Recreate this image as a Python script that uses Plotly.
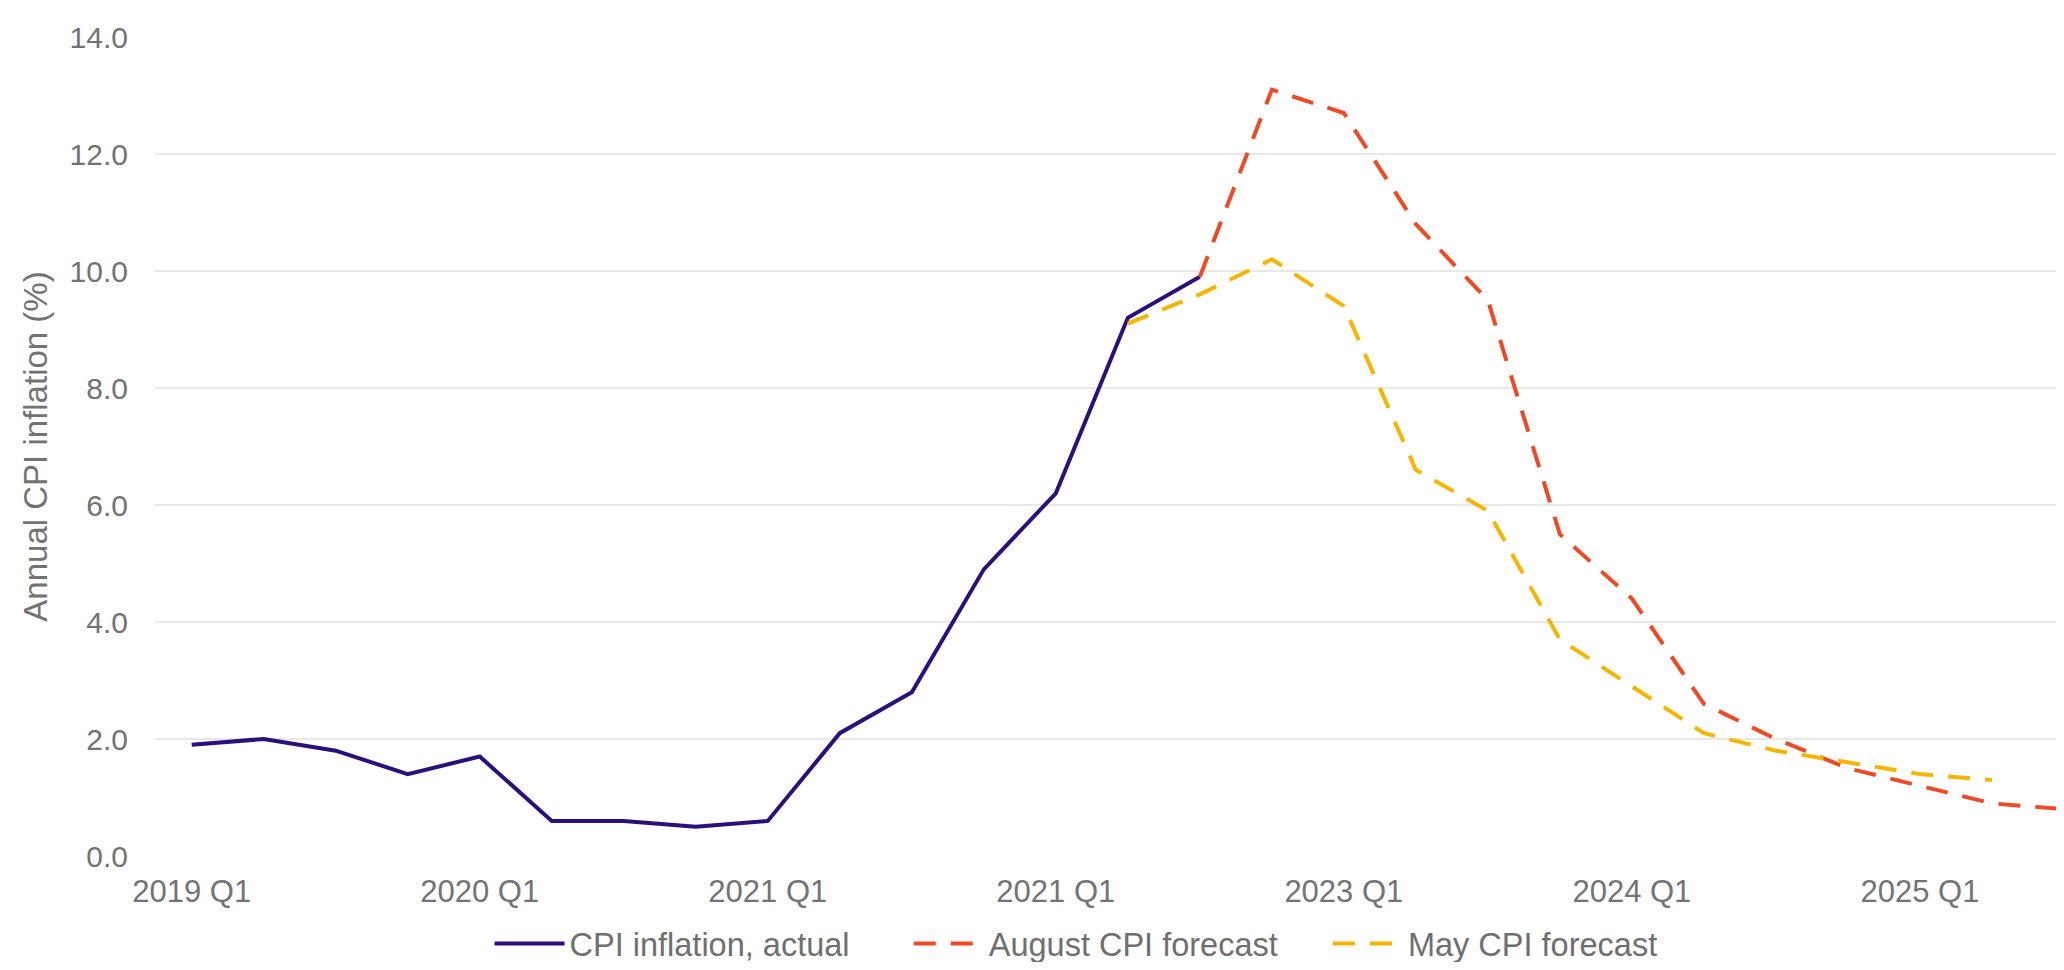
"""UK CPI inflation: actual outturns against the May and August forecasts."""

import plotly.graph_objects as go

quarters = [
    "2019 Q1", "2019 Q2", "2019 Q3", "2019 Q4",
    "2020 Q1", "2020 Q2", "2020 Q3", "2020 Q4",
    "2021 Q1", "2021 Q2", "2021 Q3", "2021 Q4",
    "2022 Q1", "2022 Q2", "2022 Q3", "2022 Q4",
    "2023 Q1", "2023 Q2", "2023 Q3", "2023 Q4",
    "2024 Q1", "2024 Q2", "2024 Q3", "2024 Q4",
    "2025 Q1", "2025 Q2", "2025 Q3",
]

# CPI inflation, actual (2019 Q1 - 2022 Q3)
actual_quarters = quarters[0:15]
actual_cpi = [1.9, 2.0, 1.8, 1.4, 1.7, 0.6, 0.6, 0.5, 0.6, 2.1, 2.8, 4.9, 6.2, 9.2, 9.9]

# August forecast (2022 Q3 - 2025 Q3)
august_quarters = quarters[14:27]
august_cpi = [9.9, 13.1, 12.7, 10.8, 9.5, 5.5, 4.4, 2.6, 2.0, 1.5, 1.2, 0.9, 0.8]

# May forecast (2022 Q2 - 2025 Q2)
may_quarters = quarters[13:26]
may_cpi = [9.1, 9.6, 10.2, 9.4, 6.6, 5.9, 3.7, 2.9, 2.1, 1.8, 1.6, 1.4, 1.3]

# the source labels 2022 Q1 as "2021 Q1"; kept as drawn
tick_quarters = ["2019 Q1", "2020 Q1", "2021 Q1", "2022 Q1", "2023 Q1", "2024 Q1", "2025 Q1"]
tick_labels = ["2019 Q1", "2020 Q1", "2021 Q1", "2021 Q1", "2023 Q1", "2024 Q1", "2025 Q1"]

FONT = "Liberation Sans"
GREY = "#737373"
NBSP = "\u00a0"  # pads legend entries apart

fig = go.Figure()

fig.add_trace(
    go.Scatter(
        x=actual_quarters,
        y=actual_cpi,
        mode="lines",
        name="CPI inflation, actual" + NBSP * 6,
        line=dict(color="#2b0f7a", width=4),
    )
)
fig.add_trace(
    go.Scatter(
        x=august_quarters,
        y=august_cpi,
        mode="lines",
        name="August CPI forecast" + NBSP * 5,
        line=dict(color="#ef4a23", width=4, dash="22px,15px"),
    )
)
fig.add_trace(
    go.Scatter(
        x=may_quarters,
        y=may_cpi,
        mode="lines",
        name="May CPI forecast",
        line=dict(color="#f6b500", width=4, dash="22px,15px"),
    )
)

fig.update_layout(
    width=2048,
    height=954,
    margin=dict(l=147, r=0, t=29, b=106),
    plot_bgcolor="white",
    paper_bgcolor="white",
    font=dict(family=FONT, color=GREY, size=30),
    showlegend=True,
    legend=dict(
        orientation="h",
        x=0.4845,
        xanchor="center",
        yref="container",
        y=0.019,
        yanchor="middle",
        itemwidth=70,
        font=dict(size=32.5, color="#6f6f6f"),
        bgcolor="rgba(0,0,0,0)",
    ),
)
fig.update_xaxes(
    type="category",
    categoryorder="array",
    categoryarray=quarters,
    range=[-0.51, 25.89],
    tickvals=tick_quarters,
    ticktext=tick_labels,
    showgrid=False,
    showline=False,
    zeroline=False,
    ticks="outside",
    ticklen=8,
    tickcolor="rgba(0,0,0,0)",
    tickfont=dict(size=31, color=GREY),
)
fig.update_yaxes(
    range=[0, 14],
    dtick=2,
    tickformat=".1f",
    showgrid=True,
    gridcolor="#e8e8e8",
    gridwidth=2,
    zeroline=False,
    showline=False,
    ticks="outside",
    ticklen=20,
    tickcolor="rgba(0,0,0,0)",
    tickfont=dict(size=30, color=GREY),
    title=dict(text="Annual CPI inflation (%)", font=dict(size=33, color=GREY), standoff=12),
)

fig.write_html("out.html")
